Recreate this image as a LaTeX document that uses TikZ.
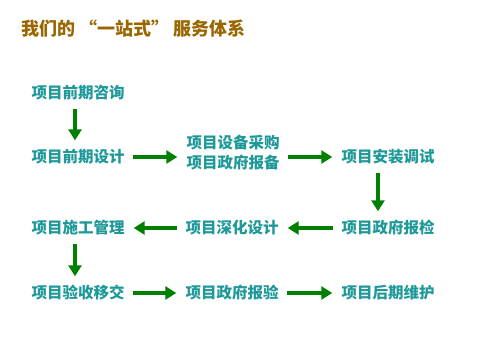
\documentclass[tikz,border=0pt]{standalone}
\usepackage{fontspec}
\newfontfamily\cjk{Noto Sans CJK SC}
\usetikzlibrary{arrows.meta}
\definecolor{titlegold}{RGB}{153,102,0}
\definecolor{stepteal}{RGB}{30,152,152}
\definecolor{flowgreen}{RGB}{0,128,0}
\tikzset{
  stage/.style={inner sep=0pt,text=stepteal,font=\cjk\bfseries\fontsize{15.5}{20}\selectfont,align=center},
  flow/.style={draw=flowgreen,line width=4pt,-{Triangle[length=11pt,width=13pt]},shorten <=8pt,shorten >=9pt}
}
\begin{document}
\begin{tikzpicture}[x=1pt,y=-1pt]
\useasboundingbox (0,0) rectangle (477,338);
\node[anchor=west,inner sep=0pt,text=titlegold,font=\cjk\bfseries\fontsize{18}{20}\selectfont] (title) at (21,29) {我们的 “一站式” 服务体系};
\node[stage] (ask) at (78,93) {项目前期咨询};
\node[stage] (design) at (78,157) {项目前期设计};
\node[stage] (buy) at (233,153) {项目设备采购\\项目政府报备};
\node[stage] (install) at (388,157) {项目安装调试};
\node[stage] (check) at (388,228) {项目政府报检};
\node[stage] (deepen) at (232,228) {项目深化设计};
\node[stage] (build) at (78,228) {项目施工管理};
\node[stage] (accept) at (78,293) {项目验收移交};
\node[stage] (inspect) at (232,293) {项目政府报验};
\node[stage] (maintain) at (388,293) {项目后期维护};
\draw[flow] ([xshift=-3pt]ask.south) -- ([xshift=-3pt]design.north);
\draw[flow] (design.east) -- (design.east -| buy.west);
\draw[flow] (buy.east |- design) -- (install.west);
\draw[flow] ([xshift=-10pt]install.south) -- ([xshift=-10pt]check.north);
\draw[flow] (check) -- (deepen);
\draw[flow] (deepen) -- (build);
\draw[flow] ([xshift=-3pt]build.south) -- ([xshift=-3pt]accept.north);
\draw[flow] (accept) -- (inspect);
\draw[flow] (inspect) -- (maintain);
\end{tikzpicture}
\end{document}
